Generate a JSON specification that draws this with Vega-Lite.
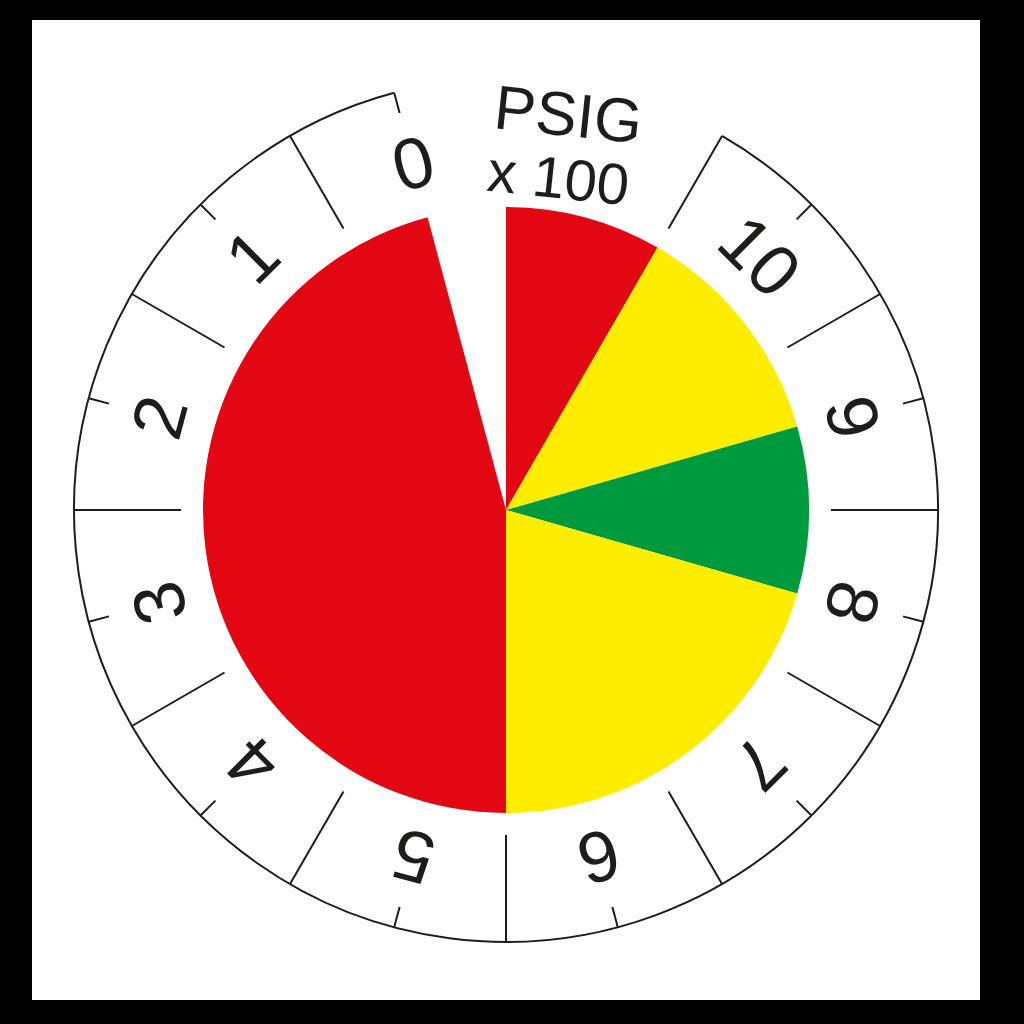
{
  "$schema": "https://vega.github.io/schema/vega-lite/v6.json",
  "width": 948,
  "height": 980,
  "autosize": {"type": "none"},
  "padding": {"left": 32, "top": 20, "right": 44, "bottom": 24},
  "background": "#000000",
  "config": {"view": {"fill": "#ffffff", "stroke": null}},
  "datasets": {
    "panel": [{"face": "dial"}],
    "zones": [
      {"start": 0, "end": 30, "zone": "danger"},
      {"start": 30, "end": 74, "zone": "caution"},
      {"start": 74, "end": 106, "zone": "optimal"},
      {"start": 106, "end": 180, "zone": "caution"},
      {"start": 180, "end": 345, "zone": "danger"}
    ],
    "dial": [{"start": 30, "end": 345}],
    "major": [
      {"a": 30}, {"a": 60}, {"a": 90}, {"a": 120}, {"a": 150}, {"a": 180},
      {"a": 210}, {"a": 240}, {"a": 270}, {"a": 300}, {"a": 330}
    ],
    "minor": [
      {"a": 45}, {"a": 75}, {"a": 105}, {"a": 135}, {"a": 165}, {"a": 195},
      {"a": 225}, {"a": 255}, {"a": 285}, {"a": 315}, {"a": 345}
    ],
    "numbers": [
      {"label": "0", "a": 345}, {"label": "1", "a": 315}, {"label": "2", "a": 285},
      {"label": "3", "a": 255}, {"label": "4", "a": 225}, {"label": "5", "a": 195},
      {"label": "6", "a": 165}, {"label": "7", "a": 135}, {"label": "8", "a": 105},
      {"label": "9", "a": 75}, {"label": "10", "a": 45}
    ],
    "unit1": [{"text": "PSIG", "a": 9}],
    "unit2": [{"text": "x 100", "a": 9}]
  },
  "layer": [
    {
      "data": {"name": "panel"},
      "mark": {"type": "rect", "color": "#ffffff"},
      "encoding": {}
    },
    {
      "data": {"name": "zones"},
      "mark": {"type": "arc", "radius": 303, "radius2": 0},
      "encoding": {
        "theta": {"field": "start", "type": "quantitative", "stack": null, "scale": {"domain": [0, 360], "range": [0, 6.283185307179586]}},
        "theta2": {"field": "end"},
        "color": {"field": "zone", "type": "nominal", "legend": null,
          "scale": {"domain": ["danger", "caution", "optimal"], "range": ["#e30613", "#ffed00", "#009a3e"]}}
      }
    },
    {
      "data": {"name": "dial"},
      "mark": {"type": "arc", "radius": 432, "radius2": 432, "filled": false, "color": "#1d1d1b", "strokeWidth": 2},
      "encoding": {
        "theta": {"field": "start", "type": "quantitative", "stack": null, "scale": {"domain": [0, 360], "range": [0, 6.283185307179586]}},
        "theta2": {"field": "end"}
      }
    },
    {
      "data": {"name": "major"},
      "mark": {"type": "arc", "radius": 432, "radius2": 325, "filled": false, "color": "#1d1d1b", "strokeWidth": 2},
      "encoding": {
        "theta": {"field": "a", "type": "quantitative", "stack": null, "scale": {"domain": [0, 360], "range": [0, 6.283185307179586]}},
        "theta2": {"field": "a"}
      }
    },
    {
      "data": {"name": "minor"},
      "mark": {"type": "arc", "radius": 432, "radius2": 411, "filled": false, "color": "#1d1d1b", "strokeWidth": 2},
      "encoding": {
        "theta": {"field": "a", "type": "quantitative", "stack": null, "scale": {"domain": [0, 360], "range": [0, 6.283185307179586]}},
        "theta2": {"field": "a"}
      }
    },
    {
      "data": {"name": "numbers"},
      "mark": {"type": "text", "radius": 356, "font": "Liberation Sans", "fontSize": 72, "color": "#1d1d1b", "align": "center", "baseline": "middle"},
      "encoding": {
        "theta": {"field": "a", "type": "quantitative", "stack": null, "scale": {"domain": [0, 360], "range": [0, 6.283185307179586]}},
        "angle": {"field": "a", "type": "quantitative", "scale": {"domain": [0, 360], "range": [0, 360]}},
        "text": {"field": "label"}
      }
    },
    {
      "data": {"name": "unit1"},
      "mark": {"type": "text", "radius": 398, "angle": 6, "font": "Liberation Sans", "fontSize": 62, "color": "#1d1d1b", "align": "center", "baseline": "middle"},
      "encoding": {
        "theta": {"field": "a", "type": "quantitative", "stack": null, "scale": {"domain": [0, 360], "range": [0, 6.283185307179586]}},
        "text": {"field": "text"}
      }
    },
    {
      "data": {"name": "unit2"},
      "mark": {"type": "text", "radius": 333, "angle": 6, "font": "Liberation Sans", "fontSize": 58, "color": "#1d1d1b", "align": "center", "baseline": "middle"},
      "encoding": {
        "theta": {"field": "a", "type": "quantitative", "stack": null, "scale": {"domain": [0, 360], "range": [0, 6.283185307179586]}},
        "text": {"field": "text"}
      }
    }
  ]
}
